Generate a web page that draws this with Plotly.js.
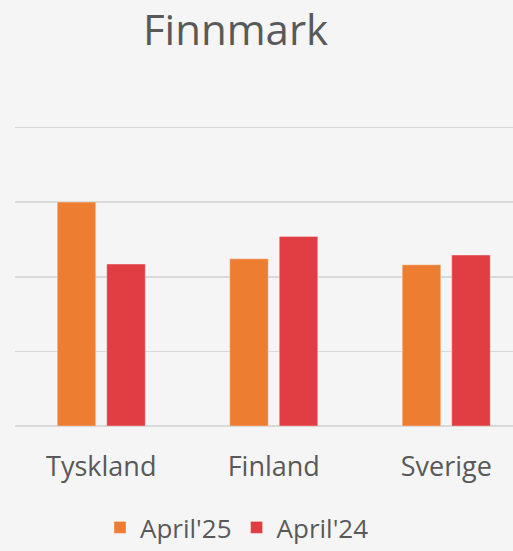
<!DOCTYPE html>
<html>
<head>
<meta charset="utf-8">
<script src="https://cdn.plot.ly/plotly-3.0.1.min.js"></script>
<style>html,body{margin:0;padding:0;background:#F5F5F5;}#chart{width:513px;height:551px;}</style>
</head>
<body>
<div id="chart"></div>
<script>
const categories = ["Tyskland", "Finland", "Sverige"];
const april25 = [3.0, 2.24, 2.16];
const april24 = [2.17, 2.54, 2.29];
const seriesNames = ["April'25", "April'24"];

const font = "'Open Sans', 'Noto Sans', sans-serif";
const traces = [
  {type: "bar", name: seriesNames[0], x: categories, y: april25,
   marker: {color: "#ED7D31", line: {color: "rgba(255,255,255,0.35)", width: 1}}, hoverinfo: "skip"},
  {type: "bar", name: seriesNames[1], x: categories, y: april24,
   marker: {color: "#E03E42", line: {color: "rgba(255,255,255,0.35)", width: 1}}, hoverinfo: "skip"}
];
const layout = {
  width: 513, height: 551,
  paper_bgcolor: "#F5F5F5", plot_bgcolor: "#F5F5F5",
  margin: {l: 15, r: 0, t: 126.2, b: 125.3, pad: 0},
  title: {text: "Finnmark", x: 235.5/513, xref: "container", xanchor: "center",
          y: 1 - 30/551, yref: "container", yanchor: "middle",
          font: {family: font, size: 42, color: "#595959"}},
  barmode: "group", bargap: 0.426, bargroupgap: 0.222,
  xaxis: {type: "category", range: [-0.5, 2.387], showgrid: false, zeroline: false, showline: false,
          ticks: "", ticklabelstandoff: 22, tickfont: {family: font, size: 27, color: "#595959"}, automargin: false},
  yaxis: {range: [0, 4.02], tickvals: [0, 1, 2, 3, 4], showgrid: true, gridcolor: "#D9D9D9", gridwidth: 1.5,
          zeroline: true, zerolinecolor: "#D9D9D9", zerolinewidth: 1.5,
          showticklabels: false, ticks: "", automargin: false},
  showlegend: true,
  legend: {orientation: "h", x: 237/513, xanchor: "center", xref: "container",
           y: 0, yref: "container", yanchor: "bottom", borderwidth: 0,
           font: {family: font, size: 26, color: "#595959"}, itemwidth: 30, bgcolor: "rgba(0,0,0,0)"}
};
Plotly.newPlot("chart", traces, layout, {displayModeBar: false, staticPlot: true});
</script>
</body>
</html>
